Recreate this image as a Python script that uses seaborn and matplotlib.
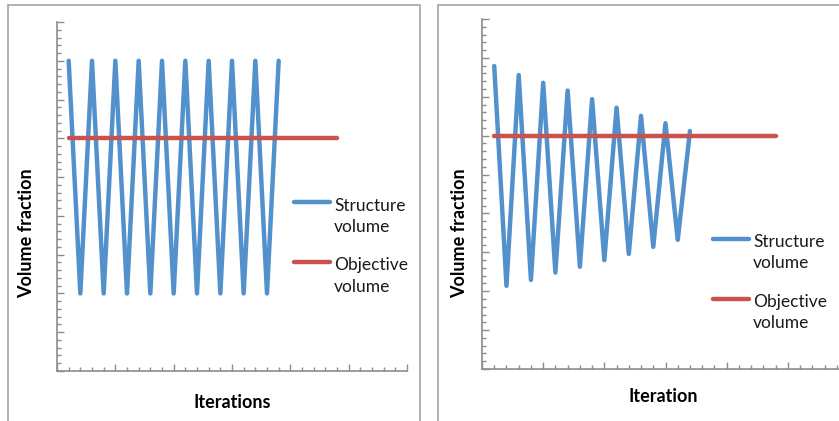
import matplotlib
matplotlib.use("Agg")
import matplotlib.pyplot as plt
from matplotlib.patches import Rectangle
from matplotlib.ticker import MultipleLocator, NullFormatter
import seaborn as sns
import pandas as pd

sns.set_theme(style="white")
plt.rcParams['font.family'] = ['Lato', 'DejaVu Sans']

# ---- data ----
left_iter = list(range(1, 20))
left_structure = [0.8, 0.2, 0.8, 0.2, 0.8, 0.2, 0.8, 0.2, 0.8, 0.2,
                  0.8, 0.2, 0.8, 0.2, 0.8, 0.2, 0.8, 0.2, 0.8]
right_iter = list(range(1, 18))
right_structure = [0.779, 0.214, 0.756, 0.229, 0.736, 0.248, 0.716, 0.263, 0.694,
                   0.280, 0.672, 0.296, 0.651, 0.314, 0.632, 0.332, 0.612]
objective_iter = list(range(1, 25))
objective_value = [0.6] * 24

left_xlabel = "Iterations"
right_xlabel = "Iteration"
ylabel = "Volume fraction"
legend_labels = ["Structure\nvolume", "Objective\nvolume"]

BLUE = "#5391CD"
RED = "#C9524D"
AXC = "#8C8C8C"
W, H = 839, 421

fig = plt.figure(figsize=(W / 100, H / 100), dpi=100)

# panel borders
for (x0, x1) in [(8, 420), (438, 860)]:
    fig.patches.append(Rectangle((x0 / W, -0.1), (x1 - x0) / W, (H - 5) / H + 0.1,
                                 transform=fig.transFigure, fill=False,
                                 edgecolor="#ABABAB", linewidth=1.3))


def px_ax(l, r, t, b):
    return [l / W, (H - b) / H, (r - l) / W, (b - t) / H]


def style(ax, xlabel, xmax):
    ax.set_xlim(0, xmax)
    ax.set_ylim(0, 0.9)
    for s in ["top", "right"]:
        ax.spines[s].set_visible(False)
    for s in ["left", "bottom"]:
        ax.spines[s].set_color(AXC)
        ax.spines[s].set_linewidth(1.2)
    ax.xaxis.set_major_locator(MultipleLocator(5))
    ax.xaxis.set_minor_locator(MultipleLocator(1))
    ax.yaxis.set_major_locator(MultipleLocator(0.1))
    ax.yaxis.set_minor_locator(MultipleLocator(0.02))
    ax.xaxis.set_major_formatter(NullFormatter())
    ax.yaxis.set_major_formatter(NullFormatter())
    ax.tick_params(which="major", direction="in", length=5, width=1, color=AXC,
                   bottom=True, left=True)
    ax.tick_params(which="minor", direction="in", length=3, width=1, color=AXC,
                   bottom=True, left=True)
    ax.set_xlabel(xlabel, fontsize=13, fontweight="bold", color="black")
    ax.set_ylabel(ylabel, fontsize=13, fontweight="bold", color="black")
    ax.set_facecolor("none")


# left chart
ax1 = fig.add_axes(px_ax(57, 407, 22, 371))
sns.lineplot(x=left_iter, y=left_structure, ax=ax1, color=BLUE, linewidth=3.2)
sns.lineplot(x=objective_iter, y=objective_value, ax=ax1, color=RED, linewidth=3.2,
             solid_capstyle="round")
style(ax1, left_xlabel, 30)
ax1.xaxis.set_label_coords(0.5, -0.065)
ax1.yaxis.set_label_coords(-0.063, 0.395)

# right chart
ax2 = fig.add_axes(px_ax(482, 482 + 367, 19, 369))
sns.lineplot(x=right_iter, y=right_structure, ax=ax2, color=BLUE, linewidth=3.2)
sns.lineplot(x=objective_iter, y=objective_value, ax=ax2, color=RED, linewidth=3.2,
             solid_capstyle="round")
style(ax2, right_xlabel, 30)
ax2.xaxis.set_label_coords((663 - 482) / 367, -0.055)
ax2.yaxis.set_label_coords(-0.038, 0.389)


def legend(ax, lx0, lx1, tx, rows):
    for (ly, ty, label, col) in rows:
        fig.add_artist(plt.Line2D([lx0 / W, lx1 / W], [(H - ly) / H] * 2,
                                  transform=fig.transFigure, color=col, linewidth=3.2,
                                  solid_capstyle="round"))
        fig.text(tx / W, (H - ty) / H, label, fontsize=12.5, va="center", ha="left",
                 linespacing=1.42, color="#1a1a1a")


legend(ax1, 294, 330, 334, [(202, 216.5, legend_labels[0], BLUE),
                            (262, 276, legend_labels[1], RED)])
legend(ax2, 713, 749, 753, [(239, 252.5, legend_labels[0], BLUE),
                            (299, 312.5, legend_labels[1], RED)])

fig.savefig("out.png", dpi=100)
